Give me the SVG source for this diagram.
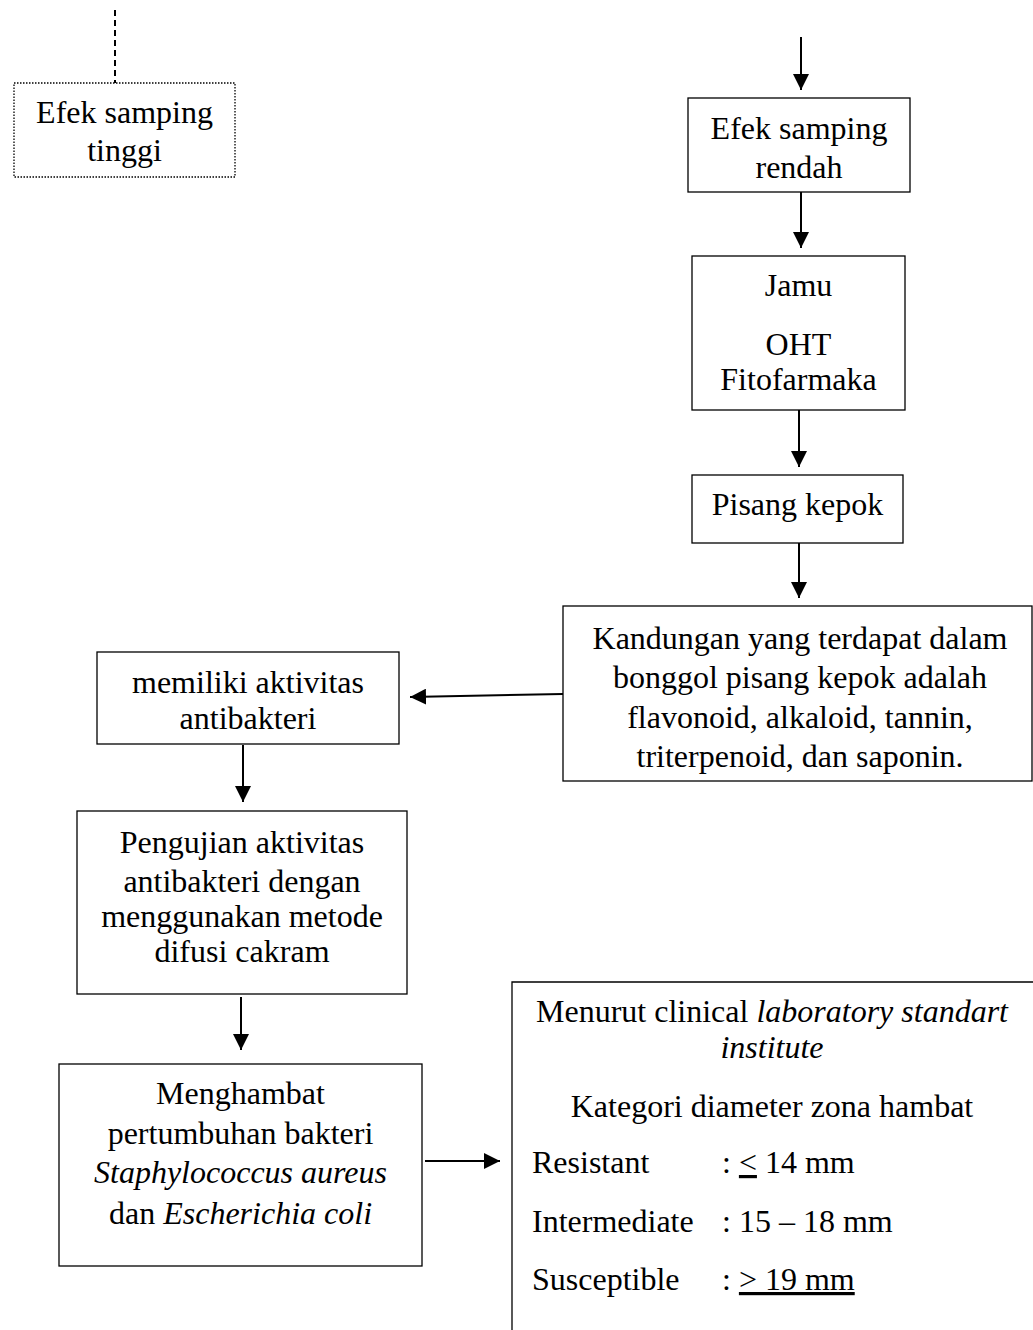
<svg xmlns="http://www.w3.org/2000/svg" width="1033" height="1330" viewBox="0 0 1033 1330">
<defs>
<style>
text{font-family:"Liberation Serif","Times New Roman",serif;font-size:32px;fill:#000;text-anchor:middle}
.l{text-anchor:start}
.i{font-style:italic}
.box{fill:#fff;stroke:#000;stroke-width:1.3}
.con{stroke:#000;stroke-width:2;fill:none}
</style>
<marker id="ah" viewBox="0 0 10 10" refX="10" refY="5" markerWidth="16" markerHeight="16" markerUnits="userSpaceOnUse" orient="auto">
<path d="M0,0 L10,5 L0,10 z" fill="#000"/>
</marker>
</defs>
<rect width="1033" height="1330" fill="#fff"/>
<g id="connectors">
<line class="con" x1="115" y1="10" x2="115" y2="83" stroke-dasharray="6,4"/>
<line class="con" x1="801" y1="37" x2="801" y2="90" marker-end="url(#ah)"/>
<line class="con" x1="801" y1="192" x2="801" y2="248" marker-end="url(#ah)"/>
<line class="con" x1="799" y1="410" x2="799" y2="467" marker-end="url(#ah)"/>
<line class="con" x1="799" y1="543" x2="799" y2="598" marker-end="url(#ah)"/>
<line class="con" x1="563" y1="694" x2="410" y2="697" marker-end="url(#ah)"/>
<line class="con" x1="243" y1="745" x2="243" y2="802" marker-end="url(#ah)"/>
<line class="con" x1="241" y1="997" x2="241" y2="1050" marker-end="url(#ah)"/>
<line class="con" x1="425" y1="1161" x2="500" y2="1161" marker-end="url(#ah)"/>
</g>
<g id="n-tinggi">
<rect x="14" y="83" width="221" height="94" fill="#fff" stroke="#000" stroke-width="1.3" stroke-dasharray="1.5,1.5"/>
<text x="124.5" y="123">Efek samping</text>
<text x="124.5" y="161">tinggi</text>
</g>
<g id="n-rendah">
<rect class="box" x="688" y="98" width="222" height="94"/>
<text x="799" y="139">Efek samping</text>
<text x="799" y="178">rendah</text>
</g>
<g id="n-jamu">
<rect class="box" x="692" y="256" width="213" height="154"/>
<text x="798.5" y="296">Jamu</text>
<text x="798.5" y="355">OHT</text>
<text x="798.5" y="390">Fitofarmaka</text>
</g>
<g id="n-pisang">
<rect class="box" x="692" y="475" width="211" height="68"/>
<text x="797.5" y="515">Pisang kepok</text>
</g>
<g id="n-kandungan">
<rect class="box" x="563" y="606" width="469" height="175"/>
<text x="800" y="649">Kandungan yang terdapat dalam</text>
<text x="800" y="688">bonggol pisang kepok adalah</text>
<text x="800" y="728">flavonoid, alkaloid, tannin,</text>
<text x="800" y="767">triterpenoid, dan saponin.</text>
</g>
<g id="n-memiliki">
<rect class="box" x="97" y="652" width="302" height="92"/>
<text x="248" y="693">memiliki aktivitas</text>
<text x="248" y="729">antibakteri</text>
</g>
<g id="n-pengujian">
<rect class="box" x="77" y="811" width="330" height="183"/>
<text x="242" y="853">Pengujian aktivitas</text>
<text x="242" y="892">antibakteri dengan</text>
<text x="242" y="927">menggunakan metode</text>
<text x="242" y="962">difusi cakram</text>
</g>
<g id="n-menghambat">
<rect class="box" x="59" y="1064" width="363" height="202"/>
<text x="240.5" y="1104">Menghambat</text>
<text x="240.5" y="1144">pertumbuhan bakteri</text>
<text x="240.5" y="1183" class="i">Staphylococcus aureus</text>
<text x="240.5" y="1224">dan <tspan class="i">Escherichia coli</tspan></text>
</g>
<g id="n-clsi">
<path d="M512,1330 V982 H1033" fill="none" stroke="#000" stroke-width="1.3"/>
<text x="772" y="1022">Menurut clinical <tspan class="i">laboratory standart</tspan></text>
<text x="772" y="1058" class="i">institute</text>
<text x="772" y="1117">Kategori diameter zona hambat</text>
<text class="l" x="532" y="1173">Resistant</text>
<text class="l" x="722" y="1173">: <tspan text-decoration="underline">&lt;</tspan> 14 mm</text>
<text class="l" x="532" y="1232">Intermediate</text>
<text class="l" x="722" y="1232">: 15 – 18 mm</text>
<text class="l" x="532" y="1290">Susceptible</text>
<text class="l" x="722" y="1290">: <tspan text-decoration="underline">&gt; 19 mm</tspan></text>
</g>
</svg>
